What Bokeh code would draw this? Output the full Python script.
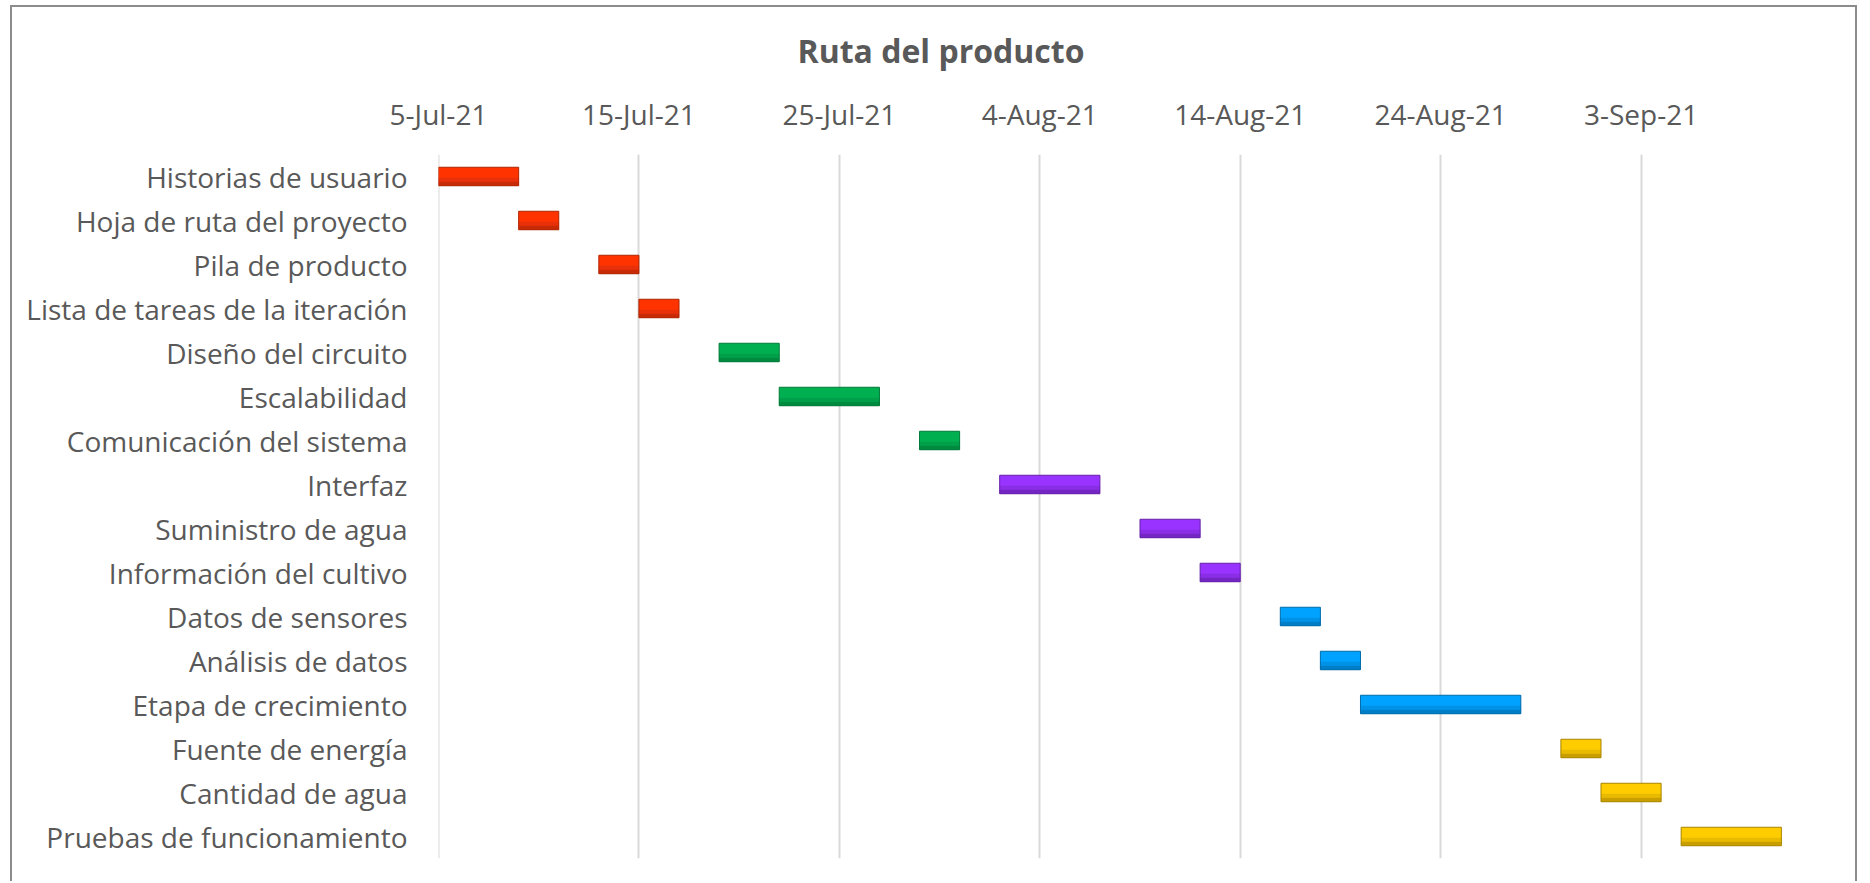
import pandas as pd
from bokeh.plotting import figure
from bokeh.models import ColumnDataSource, FactorRange, Range1d, FixedTicker, Span
from bokeh.transform import dodge
from bokeh.embed import file_html
from bokeh.resources import INLINE

# ---------------- data ----------------
tasks = [
    "Historias de usuario",
    "Hoja de ruta del proyecto",
    "Pila de producto",
    "Lista de tareas de la iteración",
    "Diseño del circuito",
    "Escalabilidad",
    "Comunicación del sistema",
    "Interfaz",
    "Suministro de agua",
    "Información del cultivo",
    "Datos de sensores",
    "Análisis de datos",
    "Etapa de crecimiento",
    "Fuente de energía",
    "Cantidad de agua",
    "Pruebas de funcionamiento",
]
start_dates = [
    "2021-07-05", "2021-07-09", "2021-07-13", "2021-07-15",
    "2021-07-19", "2021-07-22", "2021-07-29",
    "2021-08-02", "2021-08-09", "2021-08-12",
    "2021-08-16", "2021-08-18", "2021-08-20",
    "2021-08-30", "2021-09-01", "2021-09-05",
]
durations = [4, 2, 2, 2, 3, 5, 2, 5, 3, 2, 2, 2, 8, 2, 3, 5]
phase = [0, 0, 0, 0, 1, 1, 1, 2, 2, 2, 3, 3, 3, 4, 4, 4]

tick_dates = ["2021-07-05", "2021-07-15", "2021-07-25", "2021-08-04",
              "2021-08-14", "2021-08-24", "2021-09-03"]
tick_labels = ["5-Jul-21", "15-Jul-21", "25-Jul-21", "4-Aug-21",
               "14-Aug-21", "24-Aug-21", "3-Sep-21"]
axis_start = "2021-07-05"
axis_end = "2021-09-13"

# ---------------- styles ----------------
base_colors = ["#FF3300", "#00B050", "#9933FF", "#00A2FF", "#FFCC00"]
mid_colors = ["#E8300A", "#00A04A", "#8A2EE6", "#0092E6", "#E8BA00"]
shade_colors = ["#C82A08", "#008A40", "#7426C2", "#007EC8", "#C99E00"]
edge_colors = ["#B02400", "#007A38", "#6420A8", "#006BA8", "#A88400"]
text_color = "#595959"
font = "Open Sans"

starts = pd.to_datetime(start_dates)
ends = starts + pd.to_timedelta(durations, unit="D")
src = ColumnDataSource(dict(
    task=tasks,
    start=starts,
    end=ends,
    fill=[base_colors[i] for i in phase],
    mid=[mid_colors[i] for i in phase],
    shade=[shade_colors[i] for i in phase],
    edge=[edge_colors[i] for i in phase],
))

tick_ms = [int(pd.Timestamp(d).value // 10**6) for d in tick_dates]

p = figure(
    width=1847, height=876,
    y_range=FactorRange(factors=tasks[::-1]),
    x_range=Range1d(pd.Timestamp(axis_start), pd.Timestamp(axis_end)),
    x_axis_type="datetime", x_axis_location="above",
    output_backend="svg", toolbar_location=None,
    min_border_left=426, min_border_top=146,
    min_border_right=18, min_border_bottom=25,
)
p.styles = {"margin-left": "10px", "margin-top": "5px",
            "border-top": "2px solid #8c8c8c",
            "border-left": "2px solid #8c8c8c",
            "border-right": "2px solid #8c8c8c"}
p.outline_line_color = None
p.background_fill_color = "white"
p.border_fill_color = "white"

# grid
p.xgrid.ticker = FixedTicker(ticks=tick_ms)
p.xgrid.grid_line_color = "#D9D9D9"
p.xgrid.grid_line_width = 2
p.ygrid.grid_line_color = None
p.add_layout(Span(location=tick_ms[0], dimension="height",
                  line_color="#D9D9D9", line_width=2, level="underlay"))

# bars with a simple bevel look
p.hbar(y="task", left="start", right="end", height=0.42,
       fill_color="fill", line_color=None, source=src)
p.hbar(y=dodge("task", -0.075, range=p.y_range), left="start", right="end",
       height=0.09, fill_color="mid", line_color=None, source=src)
p.hbar(y=dodge("task", -0.165, range=p.y_range), left="start", right="end",
       height=0.09, fill_color="shade", line_color=None, source=src)
p.hbar(y="task", left="start", right="end", height=0.42,
       fill_color=None, line_color="edge", line_width=1, source=src)

# x axis (top)
xax = p.xaxis[0]
xax.ticker = FixedTicker(ticks=tick_ms)
xax.major_label_overrides = {ms: lab for ms, lab in zip(tick_ms, tick_labels)}
xax.axis_line_color = None
xax.major_tick_line_color = None
xax.minor_tick_line_color = None
xax.major_label_text_font = font
xax.major_label_text_font_size = "28px"
xax.major_label_text_color = text_color
xax.major_label_standoff = 16

# y axis
yax = p.yaxis[0]
yax.axis_line_color = None
yax.major_tick_line_color = None
yax.minor_tick_line_color = None
yax.major_label_text_font = font
yax.major_label_text_font_size = "28px"
yax.major_label_text_color = text_color
yax.major_label_standoff = 25

# title
p.title.text = "Ruta del producto"
p.title.text_font = font
p.title.text_font_style = "bold"
p.title.text_font_size = "32px"
p.title.text_color = text_color
p.title.align = "left"
p.title.offset = 359
p.title.standoff = 39

open("out.html", "w").write(file_html(p, INLINE))
